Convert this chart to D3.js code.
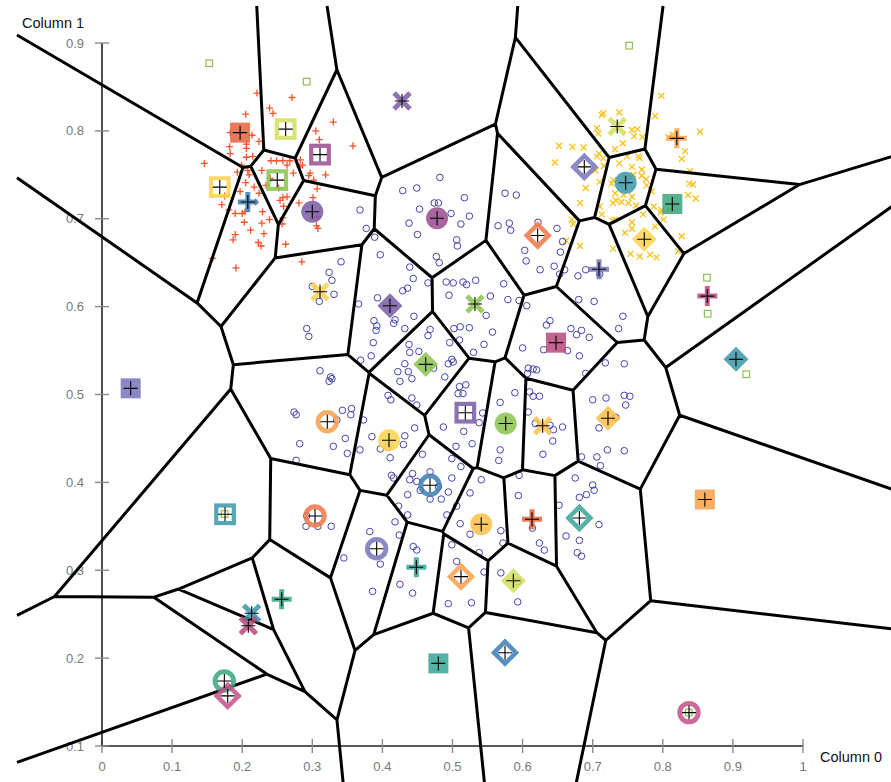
<!DOCTYPE html>
<html>
<head>
<meta charset="utf-8">
<script src="https://cdn.jsdelivr.net/npm/d3@7"></script>
<style>
  html, body { margin: 0; padding: 0; background: #fff; }
  svg { display: block; }
</style>
</head>
<body>
<script>
// ---- data -------------------------------------------------------------
// cluster A: "+" points
const plusPoints = [
  [0.221,0.843],[0.271,0.838],[0.205,0.819],[0.239,0.826],[0.244,0.820],[0.330,0.810],[0.305,0.800],
  [0.310,0.790],[0.358,0.783],[0.224,0.788],[0.182,0.782],[0.206,0.780],[0.183,0.774],[0.215,0.771],
  [0.146,0.763],[0.199,0.761],[0.208,0.755],[0.241,0.766],[0.249,0.766],[0.258,0.766],[0.268,0.766],
  [0.283,0.767],[0.273,0.752],[0.286,0.761],[0.295,0.749],[0.319,0.750],[0.302,0.744],[0.210,0.750],
  [0.205,0.741],[0.217,0.736],[0.224,0.729],[0.171,0.716],[0.252,0.735],[0.254,0.721],[0.264,0.725],
  [0.259,0.714],[0.281,0.718],[0.301,0.724],[0.306,0.692],[0.229,0.708],[0.239,0.699],[0.200,0.706],
  [0.190,0.706],[0.203,0.696],[0.228,0.695],[0.231,0.683],[0.212,0.687],[0.190,0.682],[0.223,0.673],
  [0.257,0.694],[0.262,0.671],[0.183,0.798],[0.214,0.795],[0.206,0.785],[0.206,0.770],[0.197,0.731],
  [0.204,0.708],[0.181,0.710],[0.219,0.719],[0.187,0.676],[0.158,0.655],[0.191,0.644],[0.285,0.651],
  [0.264,0.761],[0.282,0.759],[0.297,0.752],[0.307,0.734],[0.258,0.724],[0.307,0.702],[0.308,0.689],
  [0.258,0.701],[0.227,0.669],[0.240,0.746],[0.228,0.755],[0.234,0.738],[0.193,0.753],[0.175,0.726]
];

// cluster B: "x" points
const crossPoints = [
  [0.798,0.840],[0.713,0.818],[0.738,0.821],[0.789,0.817],[0.706,0.803],[0.708,0.797],[0.756,0.801],
  [0.764,0.802],[0.759,0.794],[0.771,0.793],[0.808,0.793],[0.853,0.799],[0.832,0.777],[0.827,0.768],
  [0.652,0.783],[0.671,0.782],[0.687,0.781],[0.646,0.764],[0.706,0.771],[0.709,0.774],[0.732,0.779],
  [0.743,0.786],[0.749,0.771],[0.765,0.771],[0.767,0.769],[0.738,0.763],[0.756,0.759],[0.704,0.755],
  [0.716,0.760],[0.690,0.735],[0.710,0.742],[0.770,0.749],[0.776,0.745],[0.727,0.740],[0.777,0.738],
  [0.784,0.731],[0.838,0.740],[0.843,0.739],[0.836,0.727],[0.847,0.723],[0.732,0.729],[0.744,0.727],
  [0.756,0.725],[0.733,0.721],[0.741,0.719],[0.751,0.718],[0.762,0.715],[0.729,0.718],[0.682,0.718],
  [0.710,0.714],[0.797,0.707],[0.801,0.699],[0.772,0.705],[0.787,0.714],[0.670,0.699],[0.672,0.694],
  [0.756,0.696],[0.728,0.698],[0.713,0.705],[0.814,0.796],[0.839,0.754],[0.798,0.710],[0.810,0.710],
  [0.789,0.691],[0.827,0.680],[0.822,0.663],[0.791,0.656],[0.782,0.659],[0.767,0.657],[0.754,0.660],
  [0.746,0.684],[0.756,0.689],[0.729,0.666],[0.715,0.820],[0.715,0.769],[0.770,0.756],[0.758,0.750],
  [0.729,0.744],[0.732,0.699],[0.662,0.675],[0.682,0.669]
];

// cluster C: "o" points
const circlePoints = [
  [0.368,0.710],[0.377,0.689],[0.389,0.679],[0.429,0.732],[0.449,0.735],[0.482,0.747],[0.517,0.724],
  [0.453,0.711],[0.474,0.718],[0.480,0.718],[0.498,0.706],[0.524,0.703],[0.438,0.695],[0.450,0.682],
  [0.512,0.694],[0.506,0.676],[0.507,0.669],[0.477,0.657],[0.481,0.650],[0.575,0.729],[0.591,0.727],
  [0.565,0.692],[0.581,0.695],[0.583,0.687],[0.622,0.696],[0.649,0.689],[0.657,0.674],[0.654,0.662],
  [0.603,0.664],[0.605,0.652],[0.625,0.642],[0.645,0.646],[0.653,0.637],[0.660,0.642],[0.679,0.635],
  [0.397,0.659],[0.341,0.651],[0.324,0.639],[0.328,0.630],[0.300,0.623],[0.331,0.614],[0.310,0.606],
  [0.292,0.575],[0.295,0.566],[0.366,0.603],[0.393,0.610],[0.439,0.645],[0.444,0.632],[0.436,0.621],
  [0.429,0.618],[0.465,0.627],[0.445,0.589],[0.418,0.585],[0.416,0.581],[0.388,0.584],[0.392,0.578],
  [0.391,0.573],[0.432,0.575],[0.387,0.559],[0.369,0.539],[0.384,0.544],[0.311,0.527],[0.326,0.520],
  [0.491,0.628],[0.501,0.627],[0.515,0.628],[0.520,0.625],[0.533,0.630],[0.495,0.613],[0.573,0.626],
  [0.554,0.612],[0.579,0.608],[0.548,0.590],[0.511,0.577],[0.502,0.575],[0.468,0.574],[0.465,0.567],
  [0.524,0.576],[0.557,0.571],[0.545,0.557],[0.530,0.548],[0.496,0.559],[0.510,0.562],[0.438,0.557],
  [0.452,0.549],[0.439,0.548],[0.499,0.540],[0.501,0.537],[0.422,0.526],[0.437,0.526],[0.473,0.530],
  [0.489,0.520],[0.595,0.607],[0.606,0.601],[0.634,0.579],[0.639,0.584],[0.669,0.575],[0.677,0.568],
  [0.600,0.553],[0.630,0.551],[0.664,0.550],[0.608,0.530],[0.615,0.529],[0.607,0.524],[0.680,0.608],
  [0.324,0.515],[0.328,0.518],[0.356,0.484],[0.343,0.482],[0.355,0.477],[0.335,0.471],[0.373,0.471],
  [0.347,0.450],[0.330,0.441],[0.350,0.433],[0.368,0.437],[0.385,0.452],[0.397,0.438],[0.408,0.440],
  [0.411,0.428],[0.430,0.443],[0.432,0.453],[0.446,0.462],[0.413,0.408],[0.416,0.405],[0.412,0.494],
  [0.408,0.499],[0.442,0.496],[0.449,0.488],[0.425,0.515],[0.442,0.518],[0.432,0.535],[0.494,0.535],
  [0.510,0.509],[0.519,0.511],[0.508,0.501],[0.515,0.501],[0.543,0.479],[0.538,0.468],[0.487,0.463],
  [0.516,0.458],[0.528,0.444],[0.505,0.441],[0.499,0.427],[0.512,0.418],[0.468,0.412],[0.457,0.432],
  [0.443,0.410],[0.439,0.403],[0.449,0.401],[0.480,0.395],[0.499,0.405],[0.494,0.389],[0.484,0.381],
  [0.468,0.381],[0.454,0.391],[0.436,0.386],[0.423,0.373],[0.436,0.363],[0.418,0.355],[0.492,0.363],
  [0.506,0.373],[0.525,0.388],[0.541,0.403],[0.511,0.353],[0.525,0.341],[0.569,0.345],[0.572,0.331],
  [0.538,0.320],[0.499,0.329],[0.506,0.310],[0.545,0.298],[0.569,0.297],[0.593,0.287],[0.527,0.263],
  [0.494,0.262],[0.444,0.327],[0.449,0.323],[0.424,0.340],[0.382,0.344],[0.397,0.307],[0.345,0.314],
  [0.386,0.276],[0.425,0.284],[0.443,0.274],[0.568,0.437],[0.566,0.425],[0.568,0.491],[0.589,0.502],
  [0.620,0.528],[0.610,0.503],[0.615,0.498],[0.624,0.498],[0.608,0.480],[0.618,0.467],[0.639,0.465],
  [0.644,0.460],[0.657,0.463],[0.643,0.447],[0.629,0.432],[0.595,0.408],[0.594,0.385],[0.624,0.331],
  [0.631,0.323],[0.614,0.348],[0.662,0.339],[0.681,0.334],[0.678,0.320],[0.684,0.316],[0.709,0.352],
  [0.652,0.374],[0.681,0.383],[0.691,0.386],[0.700,0.397],[0.702,0.391],[0.675,0.405],[0.700,0.494],
  [0.719,0.496],[0.745,0.499],[0.753,0.498],[0.747,0.488],[0.709,0.462],[0.721,0.437],[0.745,0.436],
  [0.706,0.429],[0.711,0.419],[0.684,0.429],[0.718,0.536],[0.745,0.535],[0.690,0.524],[0.690,0.642],
  [0.710,0.637],[0.702,0.606],[0.743,0.589],[0.737,0.575],[0.684,0.573],[0.695,0.565],[0.681,0.544],
  [0.733,0.474],[0.292,0.362],[0.291,0.350],[0.308,0.350],[0.327,0.350],[0.274,0.480],[0.277,0.477],
  [0.282,0.444],[0.277,0.425],[0.593,0.264]
];

// isolated points
const outlierPoints = [
  [0.153,0.877],[0.292,0.856],[0.752,0.897],[0.863,0.633],[0.864,0.592],[0.919,0.523],
  [0.175,0.364],[0.837,0.138]
];

// cluster centres: [x, y, marker, colour]
const centres = [
  [0.197,0.798,"squareFill","red"],
  [0.262,0.802,"square","lime"],
  [0.168,0.736,"square","yellow"],
  [0.250,0.744,"square","green"],
  [0.208,0.719,"plus","blue"],
  [0.311,0.773,"square","plum"],
  [0.300,0.708,"circleFill","purple"],
  [0.428,0.834,"cross","purple"],
  [0.478,0.7005,"circleFill","plum"],
  [0.6215,0.681,"diamond","orange"],
  [0.688,0.759,"diamond","lavender"],
  [0.735,0.805,"cross","lime"],
  [0.820,0.7915,"plus","amber"],
  [0.747,0.741,"circleFill","teal"],
  [0.8136,0.7168,"squareFill","jade"],
  [0.7736,0.6766,"diamondFill","yellow"],
  [0.709,0.6425,"plus","lavender"],
  [0.8635,0.612,"plus","raspberry"],
  [0.9044,0.540,"diamondFill","teal"],
  [0.860,0.3805,"squareFill","amber"],
  [0.311,0.617,"cross","yellow"],
  [0.4108,0.601,"diamondFill","purple"],
  [0.532,0.603,"cross","green"],
  [0.6477,0.559,"squareFill","raspberry"],
  [0.4618,0.5343,"diamondFill","green"],
  [0.0409,0.507,"squareFill","lavender"],
  [0.3214,0.469,"ring","amber"],
  [0.4094,0.448,"circleFill","yellow"],
  [0.5183,0.4793,"square","purple"],
  [0.5759,0.467,"circleFill","green"],
  [0.6286,0.4645,"cross","gold"],
  [0.7218,0.4729,"diamondFill","gold"],
  [0.4679,0.3967,"ring","blue"],
  [0.541,0.3523,"circleFill","gold"],
  [0.6134,0.358,"plus","red"],
  [0.681,0.3595,"diamond","seaGreen"],
  [0.3918,0.3245,"ring","lavender"],
  [0.4484,0.3034,"plus","seaGreen"],
  [0.5121,0.2927,"diamond","amber"],
  [0.5868,0.288,"diamondFill","lime"],
  [0.3039,0.3617,"ring","orange"],
  [0.1755,0.3637,"square","teal"],
  [0.2563,0.267,"plus","jade"],
  [0.2135,0.251,"cross","teal"],
  [0.2087,0.2369,"cross","raspberry"],
  [0.1745,0.174,"ring","jade"],
  [0.1793,0.157,"diamond","pink"],
  [0.4798,0.194,"squareFill","seaGreen"],
  [0.5749,0.2062,"diamond","blue"],
  [0.8374,0.138,"ring","pink"]
];

const palette = {
  red: "#e8603c", lime: "#d3df5c", yellow: "#fdd34d", green: "#8bc34f", blue: "#3b7db3",
  plum: "#994a8e", purple: "#7a5aa6", lavender: "#7574bb", orange: "#f07545", amber: "#f6a04c",
  gold: "#fbbf48", teal: "#3a96a8", jade: "#38a57b", seaGreen: "#38a596",
  raspberry: "#b8487c", pink: "#c3508a"
};

const xTicks = [0, 0.1, 0.2, 0.3, 0.4, 0.5, 0.6, 0.7, 0.8, 0.9, 1];
const xTickLabels = ["0", "0.1", "0.2", "0.3", "0.4", "0.5", "0.6", "0.7", "0.8", "0.9", "1"];
const yTicks = [0.1, 0.2, 0.3, 0.4, 0.5, 0.6, 0.7, 0.8, 0.9];
const yTickLabels = ["0.1", "0.2", "0.3", "0.4", "0.5", "0.6", "0.7", "0.8", "0.9"];

// ---- layout -----------------------------------------------------------
const W = 891, H = 782;
const x = d3.scaleLinear().domain([0, 1]).range([102, 803]);
const y = d3.scaleLinear().domain([0.1, 0.9]).range([746, 43]);

const svg = d3.select("body").append("svg").attr("width", W).attr("height", H);

// ---- axes -------------------------------------------------------------
const tickColor = "#8a8a8a", labelColor = "#777";
const gx = svg.append("g").attr("transform", `translate(0,${y(0.1)})`);
gx.append("line").attr("x1", x(0)).attr("x2", x(1)).attr("stroke", "#222").attr("stroke-width", 1.6);
gx.selectAll("line.tick").data(xTicks).join("line")
  .attr("class", "tick")
  .attr("x1", d => x(d)).attr("x2", d => x(d)).attr("y1", -7).attr("y2", 7)
  .attr("stroke", tickColor).attr("stroke-width", 1.4);
gx.selectAll("text").data(xTicks).join("text")
  .attr("x", d => x(d)).attr("y", 20).attr("dy", "0.35em")
  .attr("text-anchor", "middle")
  .attr("font-family", "Liberation Sans, Arial, sans-serif").attr("font-size", 13)
  .attr("fill", labelColor)
  .text((d, i) => xTickLabels[i]);

const gy = svg.append("g").attr("transform", `translate(${x(0)},0)`);
gy.append("line").attr("y1", y(0.9)).attr("y2", y(0.1)).attr("stroke", "#222").attr("stroke-width", 1.6);
gy.selectAll("line.tick").data(yTicks).join("line")
  .attr("class", "tick")
  .attr("y1", d => y(d)).attr("y2", d => y(d)).attr("x1", -7).attr("x2", 7)
  .attr("stroke", tickColor).attr("stroke-width", 1.4);
gy.selectAll("text").data(yTicks).join("text")
  .attr("x", -18).attr("y", d => y(d)).attr("dy", "0.35em")
  .attr("text-anchor", "end")
  .attr("font-family", "Liberation Sans, Arial, sans-serif").attr("font-size", 13)
  .attr("fill", labelColor)
  .text((d, i) => yTickLabels[i]);

svg.append("text").attr("x", 22).attr("y", 28)
  .attr("font-family", "Liberation Sans, Arial, sans-serif").attr("font-size", 14.5)
  .attr("fill", "#111").text("Column 1");
svg.append("text").attr("x", 820).attr("y", 762)
  .attr("font-family", "Liberation Sans, Arial, sans-serif").attr("font-size", 14.5)
  .attr("fill", "#111").text("Column 0");

// ---- data points ------------------------------------------------------
const pts = svg.append("g");
pts.selectAll("path.p").data(plusPoints).join("path")
  .attr("transform", d => `translate(${x(d[0])},${y(d[1])})`)
  .attr("d", "M-3.5,0H3.5M0,-3.5V3.5")
  .attr("stroke", "#f4552a").attr("stroke-width", 1.3).attr("fill", "none");
pts.selectAll("path.c").data(crossPoints).join("path")
  .attr("transform", d => `translate(${x(d[0])},${y(d[1])})`)
  .attr("d", "M-3,-3L3,3M-3,3L3,-3")
  .attr("stroke", "#f8c21c").attr("stroke-width", 1.3).attr("fill", "none");
pts.selectAll("circle").data(circlePoints).join("circle")
  .attr("cx", d => x(d[0])).attr("cy", d => y(d[1])).attr("r", 3.3)
  .attr("stroke", "#4343ad").attr("stroke-width", 1).attr("fill", "none");
pts.selectAll("rect").data(outlierPoints).join("rect")
  .attr("x", d => x(d[0]) - 3.3).attr("y", d => y(d[1]) - 3.3)
  .attr("width", 6.6).attr("height", 6.6)
  .attr("stroke", "#8cc152").attr("stroke-width", 1.2).attr("fill", "none");

// ---- Voronoi partition of the centres (computed in data space) -----------
const delaunay = d3.Delaunay.from(centres, d => d[0], d => d[1]);
const voronoi = delaunay.voronoi([x.invert(17), y.invert(800), x.invert(1000), y.invert(6)]);
const vpath = d3.path();
voronoi.render({
  moveTo: (a, b) => vpath.moveTo(x(a), y(b)),
  lineTo: (a, b) => vpath.lineTo(x(a), y(b)),
  closePath: () => vpath.closePath()
});
svg.append("path").attr("d", vpath.toString())
  .attr("fill", "none").attr("stroke", "#000").attr("stroke-width", 3)
  .attr("stroke-linejoin", "round");

// ---- centre markers ---------------------------------------------------
const shapes = {
  squareFill: g => g.append("rect").attr("x", -10).attr("y", -10).attr("width", 20).attr("height", 20)
    .attr("fill", c => palette[c[3]]),
  square: g => g.append("rect").attr("x", -8.8).attr("y", -8.8).attr("width", 17.6).attr("height", 17.6)
    .attr("fill", "none").attr("stroke", c => palette[c[3]]).attr("stroke-width", 4.2),
  circleFill: g => g.append("circle").attr("r", 11).attr("fill", c => palette[c[3]]),
  ring: g => g.append("circle").attr("r", 9.3).attr("fill", "none")
    .attr("stroke", c => palette[c[3]]).attr("stroke-width", 4.8),
  diamondFill: g => g.append("path").attr("d", "M0,-12.5L12.5,0L0,12.5L-12.5,0Z").attr("fill", c => palette[c[3]]),
  diamond: g => g.append("path").attr("d", "M0,-11L11,0L0,11L-11,0Z").attr("fill", "none")
    .attr("stroke", c => palette[c[3]]).attr("stroke-width", 4.5),
  plus: g => g.append("path").attr("d", "M-10,0H10M0,-10V10").attr("fill", "none")
    .attr("stroke", c => palette[c[3]]).attr("stroke-width", 5),
  cross: g => g.append("path").attr("d", "M-8,-8L8,8M-8,8L8,-8").attr("fill", "none")
    .attr("stroke", c => palette[c[3]]).attr("stroke-width", 5)
};

const cg = svg.append("g").selectAll("g").data(centres).join("g")
  .attr("transform", d => `translate(${x(d[0])},${y(d[1])})`)
  .attr("opacity", 0.85);
cg.each(function(d) { shapes[d[2]](d3.select(this)); });

// black crosshair on every centre
svg.append("g").selectAll("path").data(centres).join("path")
  .attr("transform", d => `translate(${x(d[0])},${y(d[1])})`)
  .attr("d", "M-7,0H7M0,-7V7")
  .attr("stroke", "#000").attr("stroke-width", 1.1).attr("fill", "none");
</script>
</body>
</html>
